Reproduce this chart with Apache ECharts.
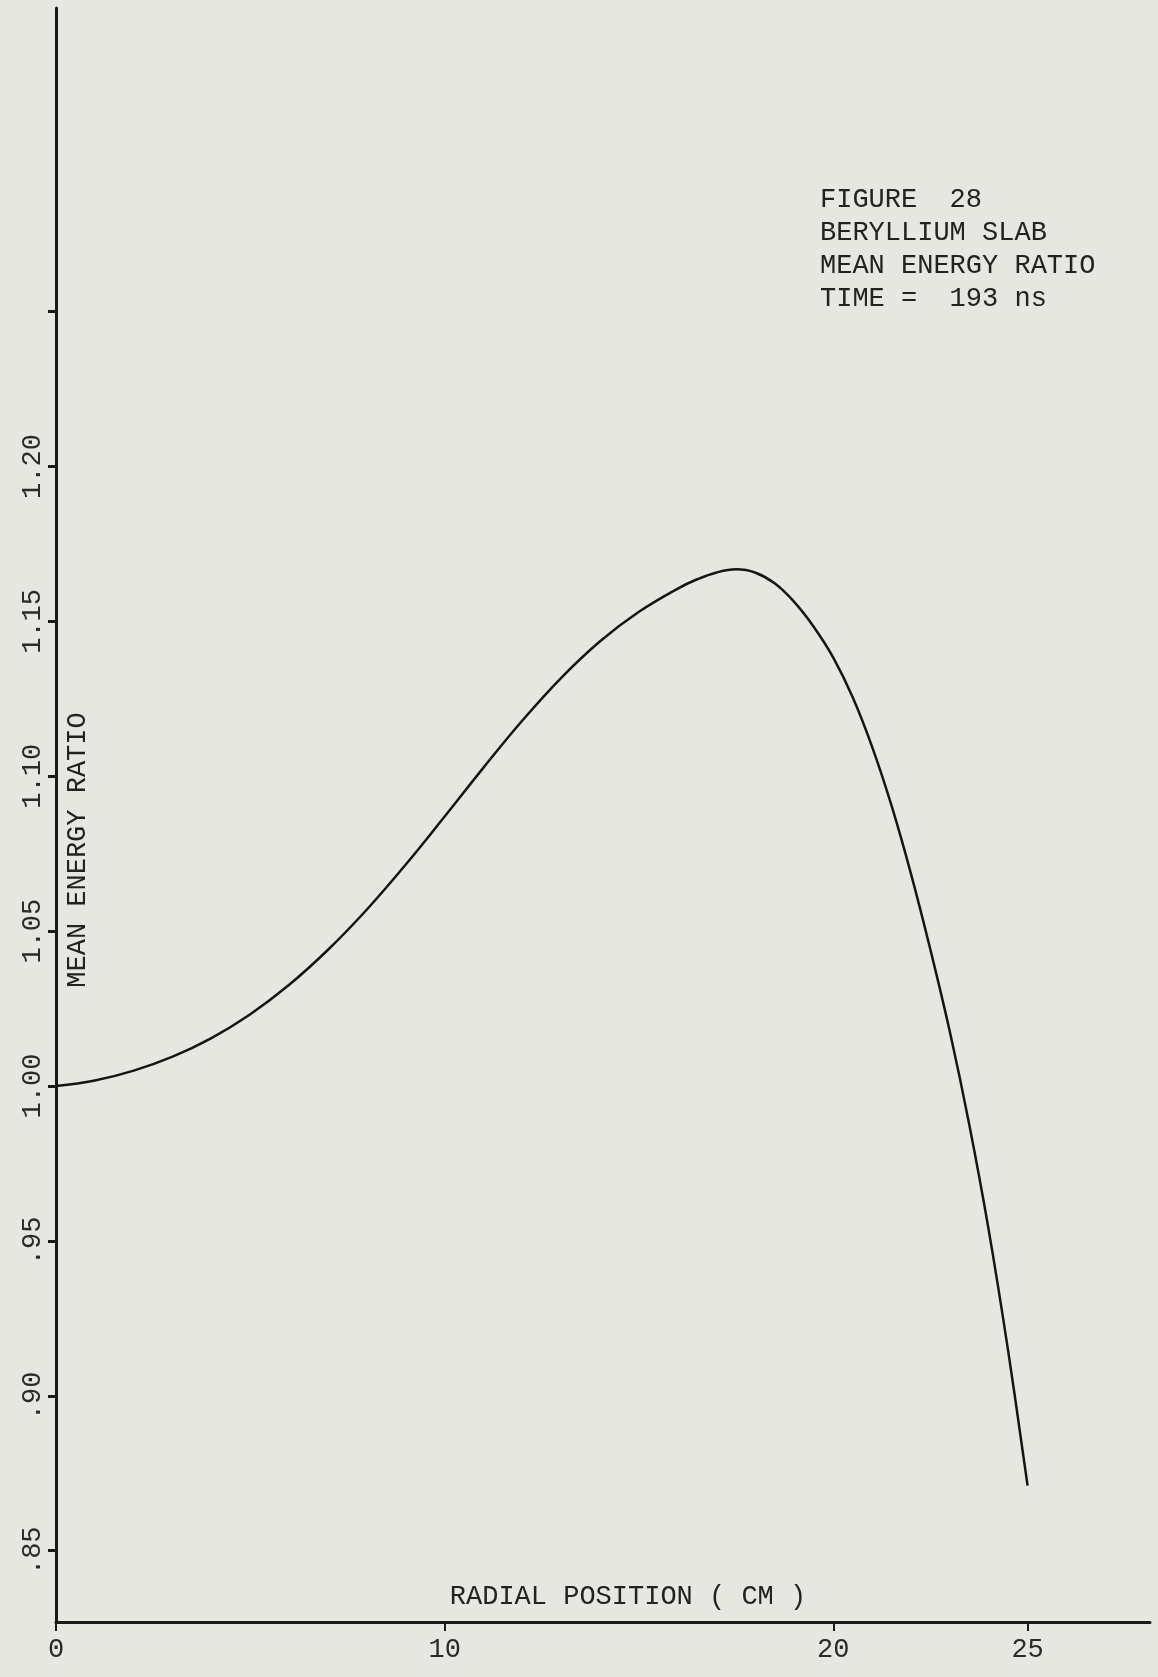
<!DOCTYPE html>
<html>
<head>
<meta charset="utf-8">
<script src="https://cdn.jsdelivr.net/npm/echarts@6/dist/echarts.min.js"></script>
<style>
  html, body { margin: 0; padding: 0; background: #e6e7e0; }
  #main { width: 1158px; height: 1677px; }
</style>
</head>
<body>
<div id="main"></div>
<script>
// radial position (cm) and mean energy ratio
var radius = [0, 1, 2, 3, 4, 5, 6, 7, 8, 9, 10, 11, 12, 13, 14, 15, 16, 16.5, 17, 17.5, 18, 18.5, 19, 19.5,
  20, 20.5, 21, 21.5, 22, 22.5, 23, 23.5, 24, 24.5, 25];
var ratio = [1.000, 1.0018, 1.005, 1.0095, 1.0155, 1.0232, 1.0327, 1.044, 1.057, 1.0715, 1.087, 1.1028,
  1.118, 1.1318, 1.1436, 1.1531, 1.1606, 1.1636, 1.1658, 1.1668, 1.1657, 1.1622, 1.1562, 1.1482,
  1.1383, 1.1255, 1.1095, 1.0905, 1.0685, 1.044, 1.0175, 0.9875, 0.9535, 0.9145, 0.871];

var xTicks = [0, 10, 20, 25];
var yTicks = [0.85, 0.90, 0.95, 1.00, 1.05, 1.10, 1.15, 1.20, 1.25];
var yLabels = [0.85, 0.90, 0.95, 1.00, 1.05, 1.10, 1.15, 1.20];

var ink = "#1a1a1a";
var font = "'Liberation Mono', 'DejaVu Sans Mono', monospace";

var myChart = echarts.init(document.getElementById("main"));

var points = radius.map(function (r, i) { return [r, ratio[i]]; });

var option = {
  backgroundColor: "#e6e7e0",
  animation: false,
  grid: { left: 56, right: 8, top: 8, bottom: 55, containLabel: false },
  xAxis: {
    type: "value",
    min: 0,
    max: 28.15,
    splitLine: { show: false },
    axisLine: { lineStyle: { color: ink, width: 3 } },
    axisTick: { customValues: xTicks, length: 9, lineStyle: { color: ink, width: 2 } },
    axisLabel: {
      customValues: xTicks,
      margin: 14,
      color: "#2a2a2a",
      fontFamily: font,
      fontSize: 27
    }
  },
  yAxis: {
    type: "value",
    min: 0.827,
    max: 1.348,
    splitLine: { show: false },
    axisLine: { lineStyle: { color: ink, width: 3 } },
    axisTick: { customValues: yTicks, length: 8, lineStyle: { color: ink, width: 3 } },
    axisLabel: {
      customValues: yLabels,
      rotate: 90,
      margin: 10,
      color: "#2a2a2a",
      fontFamily: font,
      fontSize: 27,
      formatter: function (v) {
        var s = v.toFixed(2);
        return v < 1 ? s.slice(1) : s;
      }
    }
  },
  graphic: [
    {
      type: "text",
      left: 820,
      top: 183,
      style: {
        text: "FIGURE  28\nBERYLLIUM SLAB\nMEAN ENERGY RATIO\nTIME =  193 ns",
        font: "27px " + font,
        lineHeight: 33,
        fill: "#222"
      }
    },
    {
      type: "text",
      x: 78,
      y: 850,
      rotation: Math.PI / 2,
      style: {
        text: "MEAN ENERGY RATIO",
        font: "27px " + font,
        fill: "#222",
        align: "center",
        verticalAlign: "middle"
      }
    },
    {
      type: "text",
      x: 628,
      y: 1597,
      style: {
        text: "RADIAL POSITION ( CM )",
        font: "27px " + font,
        fill: "#222",
        align: "center",
        verticalAlign: "middle"
      }
    }
  ],
  series: [
    {
      type: "line",
      data: points,
      smooth: 0.4,
      showSymbol: false,
      lineStyle: { color: "#151515", width: 2.5 }
    }
  ]
};

myChart.setOption(option);
</script>
</body>
</html>
